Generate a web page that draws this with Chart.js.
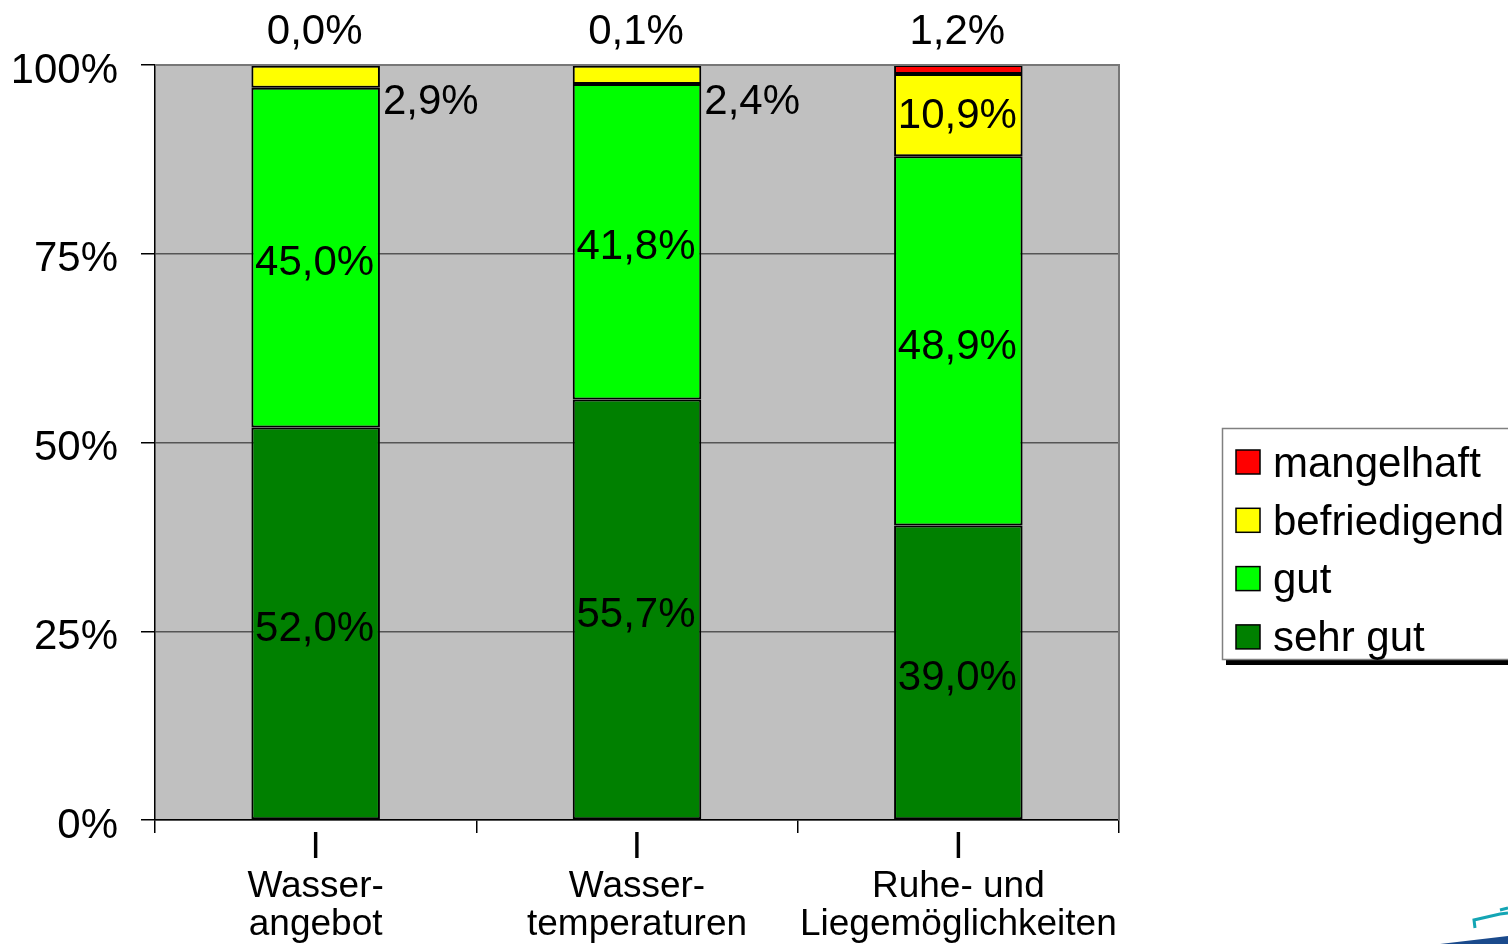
<!DOCTYPE html>
<html>
<head>
<meta charset="utf-8">
<script src="https://cdn.jsdelivr.net/npm/chart.js@4/dist/chart.umd.min.js"></script>
<style>
  html, body { margin: 0; padding: 0; background: #fff; }
  #wrap { width: 1508px; height: 944px; position: relative; }
</style>
</head>
<body>
<div id="wrap"><canvas id="myChart" width="1508" height="944"></canvas></div>
<script>
// categories (first line "I" is the little marker above each label)
const categories = [
  ['I', 'Wasser-', 'angebot'],
  ['I', 'Wasser-', 'temperaturen'],
  ['I', 'Ruhe- und', 'Liegemöglichkeiten']
]
const sehrGut = [52.0, 55.7, 39.0]
const gut = [45.0, 41.8, 48.9]
const befriedigend = [2.9, 2.4, 10.9]
const mangelhaft = [0.0, 0.1, 1.2]
const yTicks = [0, 25, 50, 75, 100]

const FONT = '"Liberation Sans", Arial, sans-serif'

function fmt(v) {
  return v.toFixed(1).replace('.', ',') + '%'
}

// grey plot background
const plotBg = {
  id: 'plotBg',
  beforeDraw(chart) {
    const a = chart.chartArea
    const ctx = chart.ctx
    ctx.save()
    ctx.fillStyle = '#c0c0c0'
    ctx.fillRect(a.left, a.top, a.right - a.left, a.bottom - a.top)
    ctx.restore()
  },
  afterDatasetsDraw(chart) {
    const a = chart.chartArea
    const ctx = chart.ctx
    ctx.save()
    ctx.strokeStyle = '#777'
    ctx.lineWidth = 2
    ctx.beginPath()
    ctx.moveTo(a.left, a.top)
    ctx.lineTo(a.right, a.top)
    ctx.lineTo(a.right, a.bottom)
    ctx.stroke()
    ctx.restore()
  }
}

// percent labels on the bars
const valueLabels = {
  id: 'valueLabels',
  afterDraw(chart) {
    const ctx = chart.ctx
    ctx.save()
    ctx.font = '42px ' + FONT
    ctx.fillStyle = '#000'
    chart.data.datasets.forEach((ds, i) => {
      const meta = chart.getDatasetMeta(i)
      meta.data.forEach((bar, j) => {
        const v = ds.data[j]
        const txt = fmt(v)
        ctx.textBaseline = 'middle'
        if (i === 3) {
          ctx.textAlign = 'center'
          ctx.fillText(txt, bar.x - 1, chart.chartArea.top - 33)
        } else if (i === 2 && v < 5) {
          ctx.textAlign = 'left'
          ctx.fillText(txt, bar.x + bar.width / 2 + 3, bar.y + 37)
        } else {
          ctx.textAlign = 'center'
          const off = i === 2 ? 1 : 6
          ctx.fillText(txt, bar.x - 1, (bar.y + bar.base) / 2 + off)
        }
      })
    })
    ctx.restore()
  }
}

// legend box on the right, reversed order
const boxLegend = {
  id: 'boxLegend',
  afterDraw(chart) {
    const ctx = chart.ctx
    ctx.save()
    // shadow
    ctx.fillStyle = '#000'
    ctx.fillRect(1226, 660, 300, 5)
    ctx.fillStyle = '#fff'
    ctx.fillRect(1222, 428, 300, 232)
    ctx.strokeStyle = '#808080'
    ctx.lineWidth = 1.5
    ctx.strokeRect(1222.5, 428.5, 300, 231)

    ctx.font = '42px ' + FONT
    ctx.textAlign = 'left'
    ctx.textBaseline = 'middle'
    const ds = chart.data.datasets.slice().reverse()
    ds.forEach((d, k) => {
      const cy = 462 + k * 58.3
      ctx.fillStyle = d.backgroundColor
      ctx.fillRect(1236, cy - 12, 24, 24)
      ctx.strokeStyle = '#000'
      ctx.lineWidth = 1.5
      ctx.strokeRect(1236, cy - 12, 24, 24)
      ctx.fillStyle = '#000'
      ctx.fillText(d.label, 1273, cy + 3)
    })

    // bit of logo in the corner
    ctx.strokeStyle = '#14a5b4'
    ctx.lineWidth = 3
    ctx.beginPath()
    ctx.moveTo(1475, 928)
    ctx.lineTo(1474, 920)
    ctx.lineTo(1500, 914)
    ctx.lineTo(1508, 913)
    ctx.moveTo(1500, 910)
    ctx.lineTo(1508, 908)
    ctx.stroke()
    ctx.fillStyle = '#1a4a8c'
    ctx.beginPath()
    ctx.moveTo(1440, 944)
    ctx.lineTo(1508, 936)
    ctx.lineTo(1508, 944)
    ctx.closePath()
    ctx.fill()
    ctx.restore()
  }
}

const colors = ['#008000', '#00ff00', '#ffff00', '#ff0000']
const names = ['sehr gut', 'gut', 'befriedigend', 'mangelhaft']
const series = [sehrGut, gut, befriedigend, mangelhaft]

const datachart = {
  labels: categories,
  datasets: series.map((s, i) => ({
    label: names[i],
    data: s,
    backgroundColor: colors[i],
    borderColor: '#000',
    borderWidth: 2,
    borderSkipped: false,
    categoryPercentage: 1,
    barPercentage: 0.4
  }))
}

const config = {
  type: 'bar',
  data: datachart,
  options: {
    responsive: false,
    animation: false,
    layout: {
      padding: { top: 65, right: 389, bottom: 0, left: 14 }
    },
    plugins: {
      legend: { display: false },
      tooltip: { enabled: false }
    },
    scales: {
      x: {
        stacked: true,
        afterFit: s => { s.height = 124 },
        border: { color: '#000', width: 1.5 },
        grid: {
          drawOnChartArea: false,
          drawTicks: true,
          tickLength: 13,
          color: '#000',
          lineWidth: 1.5
        },
        ticks: {
          color: '#000',
          padding: -4,
          maxRotation: 0,
          font: { family: FONT, size: 37, lineHeight: 1.04 }
        }
      },
      y: {
        stacked: true,
        min: 0,
        max: 100,
        afterFit: s => { s.width = 141 },
        afterBuildTicks: s => { s.ticks = yTicks.map(v => ({ value: v })) },
        border: { color: '#000', width: 1.5 },
        grid: {
          color: '#555',
          lineWidth: 1.5,
          tickLength: 14,
          tickColor: '#000'
        },
        ticks: {
          color: '#000',
          padding: 23,
          labelOffset: 6,
          callback: v => v + '%',
          font: { family: FONT, size: 42 }
        }
      }
    }
  },
  plugins: [plotBg, valueLabels, boxLegend]
}

const myChart = new Chart(document.getElementById('myChart'), config)
</script>
</body>
</html>
